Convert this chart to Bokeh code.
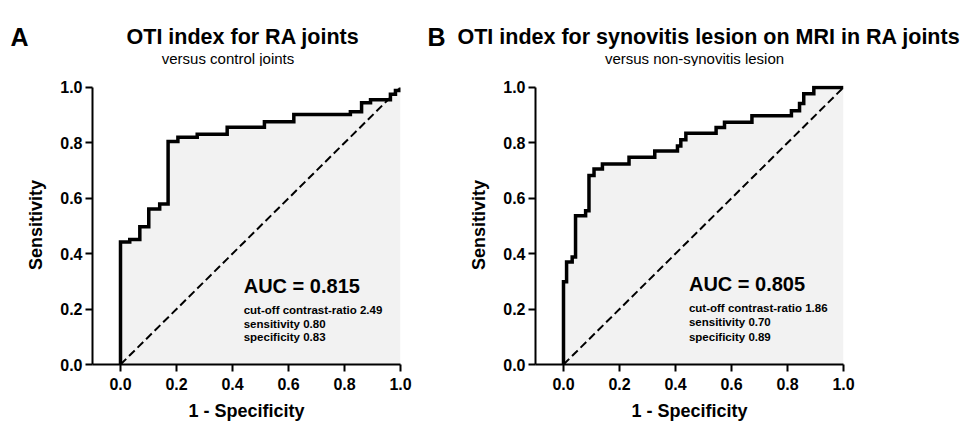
from bokeh.plotting import figure
from bokeh.layouts import row, column
from bokeh.models import Range1d, FixedTicker, PrintfTickFormatter, Label
from bokeh.embed import file_html
from bokeh.resources import INLINE

# ---- data ----
# ROC A: at each false-positive rate the curve rises to the given sensitivity
fpr_a = [0.0, 0.033, 0.069, 0.101, 0.140, 0.170, 0.205, 0.274, 0.381, 0.514,
         0.619, 0.821, 0.861, 0.893, 0.964, 0.982, 1.0]
tpr_a = [0.442, 0.451, 0.497, 0.561, 0.579, 0.805, 0.820, 0.831, 0.856, 0.876,
         0.902, 0.912, 0.945, 0.956, 0.975, 0.989, 1.0]

fpr_b = [0.0, 0.011, 0.031, 0.043, 0.079, 0.091, 0.109, 0.139, 0.234, 0.326,
         0.407, 0.419, 0.437, 0.545, 0.575, 0.673, 0.814, 0.843, 0.858, 0.894, 1.0]
tpr_b = [0.299, 0.370, 0.388, 0.537, 0.555, 0.682, 0.706, 0.724, 0.748, 0.771,
         0.789, 0.811, 0.835, 0.855, 0.874, 0.898, 0.916, 0.942, 0.977, 1.0, 1.0]

ticks = [0.0, 0.2, 0.4, 0.6, 0.8, 1.0]
x_label = "1 - Specificity"
y_label = "Sensitivity"

title_a = "OTI index for RA joints"
subtitle_a = "versus control joints"
auc_a = "AUC = 0.815"
notes_a = ["cut-off contrast-ratio 2.49", "sensitivity 0.80", "specificity 0.83"]

title_b = "OTI index for synovitis lesion on MRI in RA joints"
subtitle_b = "versus non-synovitis lesion"
auc_b = "AUC = 0.805"
notes_b = ["cut-off contrast-ratio 1.86", "sensitivity 0.70", "specificity 0.89"]

FONT = "Liberation Sans"
FILL = "#f2f2f2"
HH = 66           # header height
CH = 357          # chart figure height
TOP, BOTTOM = 19, 55


def step_path(fpr, tpr):
    xs, ys = [0.0], [0.0]
    prev = 0.0
    for x, y in zip(fpr, tpr):
        xs += [x, x]
        ys += [prev, y]
        prev = y
    return xs, ys


def add_text(p, x, y, text, size, bold=True, align="left"):
    p.add_layout(Label(x=x, y=y, text=text, text_font=FONT, text_font_size=size,
                       text_font_style="bold" if bold else "normal",
                       text_color="black", text_align=align,
                       text_baseline="alphabetic"))


def make_panel(width, left, fpr, tpr):
    p = figure(width=width, height=CH, output_backend="svg", toolbar_location=None,
               x_range=Range1d(-0.1, 1.0), y_range=Range1d(0.0, 1.007),
               min_border_left=left, min_border_right=width - left - 308,
               min_border_top=TOP, min_border_bottom=BOTTOM, title=None)
    p.outline_line_color = None
    p.grid.visible = False
    p.background_fill_color = "white"
    p.border_fill_color = "white"

    xs, ys = step_path(fpr, tpr)
    p.patch(xs + [1.0], ys + [0.0], fill_color=FILL, line_color=None)
    p.line([0, 1], [0, 1], line_color="black", line_width=2, line_dash="8 4")
    p.line(xs, ys, line_color="black", line_width=3.5, line_join="miter")

    for ax in (p.xaxis[0], p.yaxis[0]):
        ax.ticker = FixedTicker(ticks=ticks)
        ax.formatter = PrintfTickFormatter(format="%.1f")
        ax.axis_line_width = 2
        ax.axis_line_color = "black"
        ax.major_tick_line_width = 2
        ax.major_tick_line_color = "black"
        ax.major_tick_out = 7
        ax.major_tick_in = 0
        ax.minor_tick_line_color = None
        ax.major_label_text_font = FONT
        ax.major_label_text_font_size = "16px"
        ax.major_label_text_font_style = "bold"
        ax.major_label_text_color = "black"
        ax.axis_label_text_font = FONT
        ax.axis_label_text_font_size = "18px"
        ax.axis_label_text_font_style = "bold"
        ax.axis_label_text_color = "black"
    p.xaxis.major_label_standoff = 6
    p.yaxis.major_label_standoff = 3
    p.xaxis.axis_label = x_label
    p.yaxis.axis_label = y_label
    p.xaxis.axis_label_standoff = 8
    p.yaxis.axis_label_standoff = 11
    p.yaxis.bounds = (0, 1)
    return p


def add_annotations(p, x0, auc_y, line_ys, auc, notes):
    add_text(p, x0, auc_y, auc, "20px")
    for yy, t in zip(line_ys, notes):
        add_text(p, x0, yy, t, "11.5px")


# ---- header strip with panel letters, titles and subtitles ----
header = figure(width=965, height=HH, output_backend="svg", toolbar_location=None,
                x_range=Range1d(0, 965), y_range=Range1d(HH, 0),
                x_axis_location=None, y_axis_location=None, min_border=0, title=None)
header.outline_line_color = None
header.grid.visible = False
add_text(header, 10, 36, "A", "25px")
add_text(header, 242.5, 36, title_a, "21.5px", align="center")
add_text(header, 227.5, 58, subtitle_a, "15px", bold=False, align="center")
add_text(header, 427, 36, "B", "25px")
add_text(header, 457, 36, title_b, "21.5px")
add_text(header, 694, 58, subtitle_b, "15px", bold=False, align="center")

# ---- panel A ----
pa = make_panel(420, 92, fpr_a, tpr_a)
add_annotations(pa, 0.44, 0.282, [0.196, 0.1475, 0.099], auc_a, notes_a)

# ---- panel B ----
pb = make_panel(545, 115, fpr_b, tpr_b)
add_annotations(pb, 0.448, 0.289, [0.2036, 0.1536, 0.101], auc_b, notes_b)

layout = column(header, row(pa, pb))
open("out.html", "w").write(file_html(layout, INLINE))
